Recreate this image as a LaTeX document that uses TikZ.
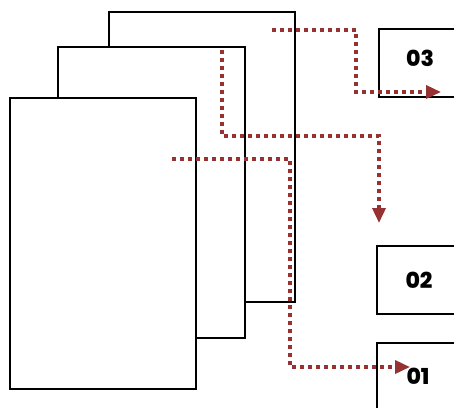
\documentclass[tikz,border=0pt]{standalone}
\usepackage{fontspec}
\newfontfamily\labfont{Poppins}[UprightFont=* ExtraBold,BoldFont=* ExtraBold]
\usetikzlibrary{arrows.meta}
\definecolor{flowred}{RGB}{150,50,50}
\begin{document}
\begin{tikzpicture}[x=1pt,y=-1pt,
  sheet/.style={draw=black,line width=2.8pt,fill=white,rectangle,inner sep=0pt},
  outbox/.style={draw=black,line width=2.8pt,fill=white,rectangle,inner sep=0pt},
  lab/.style={font=\labfont\fontsize{22}{26}\selectfont,inner sep=0pt},
  flow/.style={draw=flowred,line width=3.5pt,dash pattern=on 3.5pt off 4.5pt,
    -{Triangle[length=15pt,width=13pt]}}]
\clip (0,0) rectangle (454,407);
\fill[white] (0,0) rectangle (454,407);
% sheets
\node[sheet,minimum width=186,minimum height=290] (back) at (202,157) {};
\node[sheet,minimum width=187,minimum height=291] (mid) at (151.5,192.5) {};
\node[sheet,minimum width=186,minimum height=291] (front) at (103,243.5) {};
% output boxes
\node[outbox,minimum width=82,minimum height=68] (o3) at (420,63) {};
\node[outbox,minimum width=84,minimum height=68] (o2) at (419,280) {};
\node[outbox,minimum width=82,minimum height=66] (o1) at (418,376) {};
\node[lab] (t3) at (420,58) {03};
\node[lab] (t2) at (419,280) {02};
\node[lab] (t1) at (418,376) {01};
% connectors
\coordinate (s3) at (272,30);
\coordinate (k3) at (356,92);
\coordinate (e3) at (441,92);
\coordinate (s2) at (222,50);
\coordinate (k2) at (379,136);
\coordinate (e2) at (379,223);
\coordinate (s1) at (172,159);
\coordinate (k1) at (290,367);
\coordinate (e1) at (410,367);
\draw[flow] (s3) -| (k3) -- (e3);
\draw[flow] (s2) |- (k2) -- (e2);
\draw[flow] (s1) -| (k1) -- (e1);
\end{tikzpicture}
\end{document}
